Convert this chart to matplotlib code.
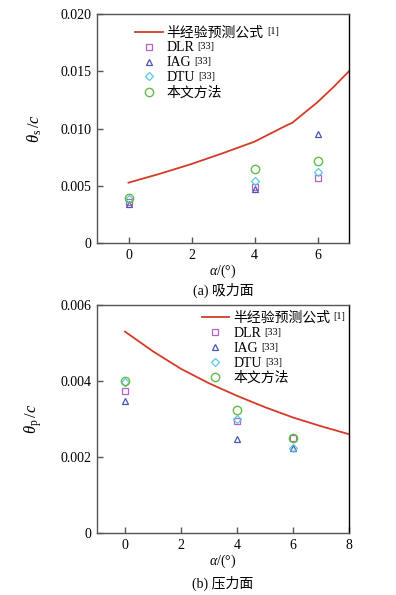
import matplotlib
matplotlib.use("Agg")
import matplotlib.pyplot as plt
from matplotlib.ticker import FuncFormatter

plt.rcParams['font.family'] = ['Liberation Serif', 'Noto Sans CJK SC']
plt.rcParams['mathtext.fontset'] = 'custom'
plt.rcParams['mathtext.rm'] = 'Liberation Serif'
plt.rcParams['mathtext.it'] = 'Liberation Serif:italic'
plt.rcParams['font.size'] = 10

# ---- data: suction side ----
s_line_x = [0, 1, 2, 3, 4, 5, 5.2, 6, 6.5, 7]
s_line_y = [0.00527, 0.00605, 0.0069, 0.00785, 0.00885, 0.01025, 0.0105, 0.0123, 0.0136, 0.0150]
s_alpha = [0, 4, 6]
s_dlr = [0.00358, 0.0049, 0.00568]
s_iag = [0.0034, 0.0047, 0.0095]
s_dtu = [0.0038, 0.00541, 0.0062]
s_ours = [0.00396, 0.00644, 0.00716]

# ---- data: pressure side ----
p_line_x = [0, 1, 2, 3, 4, 5, 6, 7, 8]
p_line_y = [0.0053, 0.00478, 0.00432, 0.00394, 0.00361, 0.00331, 0.00304, 0.00281, 0.0026]
p_alpha = [0, 4, 6]
p_dlr = [0.00373, 0.00296, 0.0025]
p_iag = [0.00348, 0.00248, 0.00224]
p_dtu = [0.00398, 0.003, 0.00224]
p_ours = [0.004, 0.00323, 0.0025]

labels = ['半经验预测公式', 'DLR', 'IAG', 'DTU', '本文方法']
sup_labels = ['[1]', '[33]', '[33]', '[33]', '']

c_line = '#d43a28'
c_dlr = '#b462c4'
c_iag = '#4a55b0'
c_dtu = '#5cc8e2'
c_ours = '#62bd48'

fig = plt.figure(figsize=(3.96, 5.95), dpi=100)
W, H = 396, 595

def add_ax(l, r, t, b):
    return fig.add_axes([l / W, 1 - b / H, (r - l) / W, (b - t) / H])

ax1 = add_ax(97, 349, 14, 243)
ax2 = add_ax(97, 349, 305, 533)

def fmt(v, pos):
    if abs(v) < 1e-12:
        return '0'
    return f'{v:.3f}'

def style(ax):
    for s in ['left', 'bottom', 'top']:
        ax.spines[s].set_color('#555555')
    ax.spines['right'].set_color('black')
    for s in ax.spines.values():
        s.set_linewidth(1.0)
    ax.tick_params(direction='in', length=4, width=1, color='#555555',
                   labelsize=10, pad=4)
    ax.yaxis.set_major_formatter(FuncFormatter(fmt))

def draw(ax, lx, ly, a, dlr, iag, dtu, ours):
    ax.plot(lx, ly, color=c_line, lw=1.3, label=labels[0])
    ax.plot(a, dlr, ls='none', marker='s', ms=4, mfc='none', mec=c_dlr, mew=0.9, label=labels[1])
    ax.plot(a, iag, ls='none', marker='^', ms=4.5, mfc='none', mec=c_iag, mew=0.9, label=labels[2])
    ax.plot(a, dtu, ls='none', marker='D', ms=4, mfc='none', mec=c_dtu, mew=0.9, label=labels[3])
    ax.plot(a, ours, ls='none', marker='o', ms=6, mfc='none', mec=c_ours, mew=1.0, label=labels[4])

draw(ax1, s_line_x, s_line_y, s_alpha, s_dlr, s_iag, s_dtu, s_ours)
draw(ax2, p_line_x, p_line_y, p_alpha, p_dlr, p_iag, p_dtu, p_ours)

ax1.set_xlim(-1, 7)
ax1.set_ylim(0, 0.02)
ax1.set_xticks([0, 2, 4, 6])
ax1.set_yticks([0, 0.005, 0.010, 0.015, 0.020])
ax2.set_xlim(-1, 8)
ax2.set_ylim(0, 0.006)
ax2.set_xticks([0, 2, 4, 6, 8])
ax2.set_yticks([0, 0.002, 0.004, 0.006])

for ax in (ax1, ax2):
    style(ax)
    ax.set_xlabel(r'$\alpha$/(°)', fontsize=10, labelpad=1)

ax1.set_ylabel(r'$\theta_{\rm s}\,/c$', fontsize=12, labelpad=12)
ax2.set_ylabel(r'$\theta_{\rm p}\,/c$', fontsize=12, labelpad=12)

leg_kw = dict(frameon=False, loc='upper left', borderaxespad=0, handlelength=2.0,
              handletextpad=0.3, labelspacing=0.14, fontsize=10, borderpad=0)
leg1 = ax1.legend(bbox_to_anchor=(0.15, 0.947), **leg_kw)
leg2 = ax2.legend(bbox_to_anchor=(0.415, 0.972), **leg_kw)

fig.text(223 / W, 1 - 290 / H, '(a) 吸力面', ha='center', va='center', fontsize=10)
fig.text(223 / W, 1 - 583 / H, '(b) 压力面', ha='center', va='center', fontsize=10)

fig.canvas.draw()
renderer = fig.canvas.get_renderer()
for leg in (leg1, leg2):
    for txt, sup in zip(leg.get_texts(), sup_labels):
        if not sup:
            continue
        bb = txt.get_window_extent(renderer)
        fig.text((bb.x1 + 3) / W, (bb.y1 - 1) / H, sup, fontsize=7.5,
                 ha='left', va='top')

fig.savefig('out.png', dpi=100)
